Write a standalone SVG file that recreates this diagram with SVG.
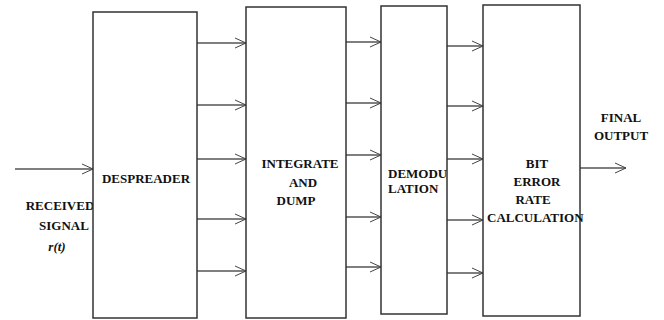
<svg xmlns="http://www.w3.org/2000/svg" width="664" height="320" viewBox="0 0 664 320">
<defs>
<marker id="ah" markerWidth="12" markerHeight="12" refX="11" refY="6" orient="auto" markerUnits="userSpaceOnUse">
<path d="M0,1 L11,6 L0,11" fill="none" stroke="#444" stroke-width="1"/>
</marker>
<style>
.box{fill:#fff;stroke:#333;stroke-width:1.5}
.ln{stroke:#000;stroke-width:1.2;fill:none;marker-end:url(#ah)}
.t{font-family:'Liberation Serif','Times New Roman','DejaVu Serif',serif;font-weight:bold;font-size:13px;fill:#111}
.m{text-anchor:middle}
</style>
</defs>
<rect width="664" height="320" fill="#fff"/>
<g id="connectors">
<line class="ln" x1="15" y1="169" x2="93" y2="169"/>
<line class="ln" x1="197" y1="43" x2="246" y2="43"/>
<line class="ln" x1="197" y1="105" x2="246" y2="105"/>
<line class="ln" x1="197" y1="159" x2="246" y2="159"/>
<line class="ln" x1="197" y1="219" x2="246" y2="219"/>
<line class="ln" x1="197" y1="271" x2="246" y2="271"/>
<line class="ln" x1="346" y1="42" x2="381" y2="42"/>
<line class="ln" x1="346" y1="103" x2="381" y2="103"/>
<line class="ln" x1="346" y1="155" x2="381" y2="155"/>
<line class="ln" x1="346" y1="217" x2="381" y2="217"/>
<line class="ln" x1="346" y1="267" x2="381" y2="267"/>
<line class="ln" x1="447" y1="46" x2="483" y2="46"/>
<line class="ln" x1="447" y1="106" x2="483" y2="106"/>
<line class="ln" x1="447" y1="159" x2="483" y2="159"/>
<line class="ln" x1="447" y1="220" x2="483" y2="220"/>
<line class="ln" x1="447" y1="273" x2="483" y2="273"/>
<line class="ln" x1="580" y1="168" x2="626" y2="168"/>
</g>
<g id="input-label" class="t">
<text class="m" x="60" y="210">RECEIVED</text>
<text class="m" x="64" y="230">SIGNAL</text>
<text class="m" x="57" y="251" font-style="italic">r(t)</text>
</g>
<g id="despreader">
<rect class="box" x="93" y="12" width="104" height="306"/>
<text class="t m" x="146" y="183">DESPREADER</text>
</g>
<g id="integrate-dump" class="t">
<rect class="box" x="246" y="7" width="100" height="311"/>
<text class="m" x="300" y="168">INTEGRATE</text>
<text class="m" x="303" y="187">AND</text>
<text class="m" x="296" y="205">DUMP</text>
</g>
<g id="demodulation" class="t">
<rect class="box" x="381" y="6" width="66" height="308"/>
<text x="388" y="178">DEMODU</text>
<text x="388" y="193">LATION</text>
</g>
<g id="ber-calc" class="t">
<rect class="box" x="483" y="5" width="97" height="311"/>
<text class="m" x="537" y="168">BIT</text>
<text class="m" x="537" y="186">ERROR</text>
<text class="m" x="533" y="204">RATE</text>
<text x="487" y="222">CALCULATION</text>
</g>
<g id="output-label" class="t">
<text class="m" x="621" y="122">FINAL</text>
<text class="m" x="621" y="140">OUTPUT</text>
</g>
</svg>
